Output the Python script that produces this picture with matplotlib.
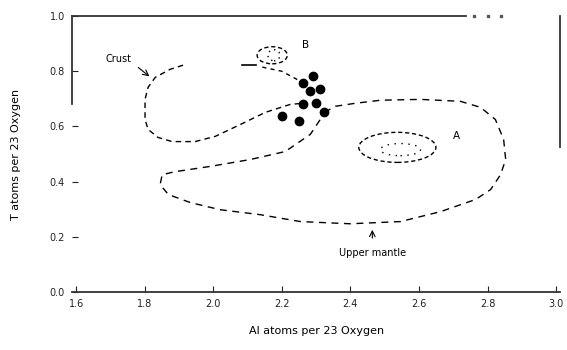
import matplotlib.pyplot as plt
from matplotlib.patches import Ellipse

# sample points (Al, Ti per 23 O)
al_pts = [2.292, 2.263, 2.312, 2.283, 2.263, 2.301, 2.324, 2.201, 2.251]
ti_pts = [0.782, 0.756, 0.735, 0.727, 0.680, 0.684, 0.651, 0.636, 0.618]

# crust field outline
crust_x = [1.912, 1.874, 1.831, 1.810, 1.801, 1.801, 1.810, 1.839, 1.880,
           1.947, 2.006, 2.079, 2.152, 2.225, 2.263]
crust_y = [0.822, 0.807, 0.778, 0.742, 0.698, 0.625, 0.589, 0.560, 0.545,
           0.545, 0.564, 0.607, 0.651, 0.680, 0.684]

# upper mantle field outline
mantle_x = [2.324, 2.356, 2.415, 2.488, 2.604, 2.721, 2.780, 2.823, 2.847,
            2.853, 2.838, 2.809, 2.765, 2.663, 2.546, 2.400, 2.254, 2.137,
            2.020, 1.933, 1.869, 1.845, 1.851, 1.889, 1.991, 2.108, 2.210,
            2.283, 2.312, 2.324]
mantle_y = [0.651, 0.673, 0.684, 0.695, 0.698, 0.691, 0.669, 0.625, 0.553,
            0.480, 0.425, 0.371, 0.335, 0.291, 0.255, 0.247, 0.255, 0.280,
            0.298, 0.324, 0.353, 0.389, 0.425, 0.436, 0.455, 0.480, 0.509,
            0.571, 0.625, 0.651]

# field B and A (center x, center y, width, height)
field_b = (2.172, 0.858, 0.088, 0.062)
field_a = (2.537, 0.524, 0.225, 0.109)
field_a_inner = (2.546, 0.516, 0.117, 0.044)

xticks = [1.6, 1.8, 2.0, 2.2, 2.4, 2.6, 2.8, 3.0]
yticks = [0.0, 0.2, 0.4, 0.6, 0.8, 1.0]

plt.rcParams['font.family'] = ['DejaVu Sans']
fig = plt.figure(figsize=(5.67, 3.5), dpi=100)
ax = fig.add_axes([0.127, 0.166, 0.861, 0.788])

ax.plot(crust_x, crust_y, color='black', lw=1.0, ls=(0, (4, 3)))
ax.plot(mantle_x, mantle_y, color='black', lw=1.0, ls=(0, (5, 4)))

for cx, cy, w, h in [field_b, field_a]:
    ax.add_patch(Ellipse((cx, cy), w, h, fill=False, ec='black', lw=1.0, ls=(0, (3, 2))))
ax.add_patch(Ellipse(field_a_inner[:2], field_a_inner[2], field_a_inner[3],
                     fill=False, ec='black', lw=1.0, ls=(0, (1, 4))))
ax.add_patch(Ellipse((field_b[0] + 0.005, field_b[1]), 0.035, 0.04,
                     fill=False, ec='black', lw=1.0, ls=(0, (1, 3))))

# connector from B to the sample cluster
ax.plot([2.085, 2.126], [0.822, 0.822], color='black', lw=1.2)
ax.plot([2.143, 2.200, 2.254], [0.815, 0.800, 0.764], color='black', lw=1.0, ls=(0, (3, 3)))

ax.plot(al_pts, ti_pts, 'o', color='black', ms=6)

ax.text(1.723, 0.844, 'Crust', fontsize=7, ha='center', va='center')
ax.annotate('', xy=(1.82, 0.775), xytext=(1.775, 0.82),
            arrowprops=dict(arrowstyle='->', lw=0.8, color='black'))
ax.text(2.27, 0.895, 'B', fontsize=7.5, ha='center', va='center')
ax.text(2.71, 0.565, 'A', fontsize=7.5, ha='center', va='center')
ax.text(2.464, 0.142, 'Upper mantle', fontsize=7, ha='center', va='center')
ax.annotate('', xy=(2.464, 0.235), xytext=(2.464, 0.185),
            arrowprops=dict(arrowstyle='->', lw=0.8, color='black'))

ax.set_xlim(1.588, 3.012)
ax.set_ylim(0, 1.0)
ax.set_xticks(xticks)
ax.set_xticklabels([f'{v:.1f}' for v in xticks])
ax.set_yticks(yticks)
ax.set_yticklabels([f'{v:.1f}' for v in yticks])
ax.tick_params(direction='in', length=4, labelsize=7, pad=5, colors='#222222')

ax.spines['left'].set_bounds(0.68, 1.0)
ax.spines['top'].set_bounds(1.588, 2.736)
ax.spines['right'].set_bounds(0.524, 1.0)
for s in ax.spines.values():
    s.set_linewidth(1.3)
    s.set_color('#333333')
ax.plot([2.76, 2.80, 2.84], [1.0, 1.0, 1.0], 's', color='#555555', ms=1.5, clip_on=False)

ax.set_xlabel('Al atoms per 23 Oxygen', fontsize=8, labelpad=12)
ax.set_ylabel('T atoms per 23 Oxygen', fontsize=8, labelpad=21)

fig.savefig('out.png', dpi=100)
